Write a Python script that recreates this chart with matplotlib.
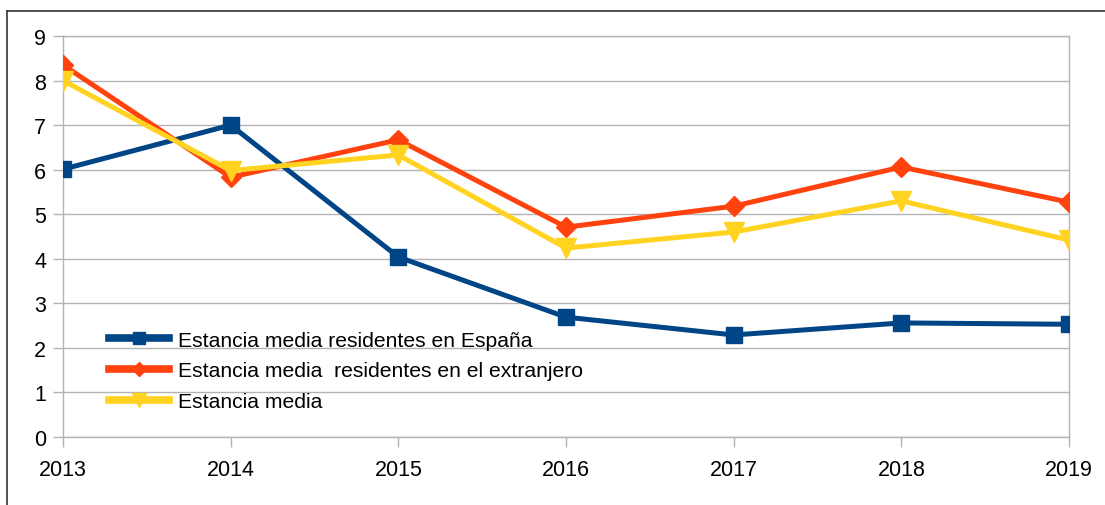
import matplotlib.pyplot as plt
from matplotlib.lines import Line2D

plt.rcParams['font.family'] = ['Liberation Sans', 'DejaVu Sans']

years = [2013, 2014, 2015, 2016, 2017, 2018, 2019]
espana = [6.01, 7.0, 4.04, 2.69, 2.29, 2.56, 2.53]
extranjero = [8.35, 5.83, 6.67, 4.71, 5.18, 6.06, 5.27]
media = [8.0, 5.98, 6.33, 4.24, 4.6, 5.3, 4.42]
labels = ["Estancia media residentes en España",
          "Estancia media  residentes en el extranjero",
          "Estancia media"]

fig = plt.figure(figsize=(11.05, 5.06), dpi=100)
ax = fig.add_axes([63 / 1105, 1 - 438 / 506, (1069 - 63) / 1105, (438 - 37) / 506])

ax.plot(years, espana, color='#004586', lw=3.6, marker='s', ms=12, label=labels[0], zorder=3)
ax.plot(years, extranjero, color='#ff420e', lw=3.6, marker='D', ms=10.5, label=labels[1], zorder=4)
ax.plot(years, media, color='#ffd320', lw=3.6, marker='v', ms=15, label=labels[2], zorder=5)

ax.set_xlim(2013, 2019)
ax.set_ylim(0, 9)
ax.set_yticks(range(10))
ax.set_xticks(years)
ax.grid(axis='y', color='#b3b3b3', lw=1)
ax.set_axisbelow(True)
for s in ax.spines.values():
    s.set_color('#b3b3b3')
    s.set_linewidth(1)
ax.tick_params(axis='both', colors='#b3b3b3', length=7, width=1, labelsize=15.5, labelcolor='black')
ax.tick_params(axis='y', pad=5)
ax.tick_params(axis='x', pad=9)
for lab in ax.get_xticklabels():
    lab.set_clip_on(False)

leg = ax.legend(loc='upper left', bbox_to_anchor=(0.046, 0.265), frameon=False, fontsize=15.2,
                handlelength=2.85, handletextpad=0.42, labelspacing=0.55, markerscale=0.7,
                borderaxespad=0, borderpad=0)
for h in leg.get_lines():
    h.set_linewidth(5.5)

# outer frame (top and left edges)
fig.add_artist(Line2D([7 / 1105, 1], [1 - 12 / 506, 1 - 12 / 506], color='#333333', lw=1.2))
fig.add_artist(Line2D([7 / 1105, 7 / 1105], [0, 1 - 12 / 506], color='#333333', lw=1.2))

fig.savefig('out.png', dpi=100)
